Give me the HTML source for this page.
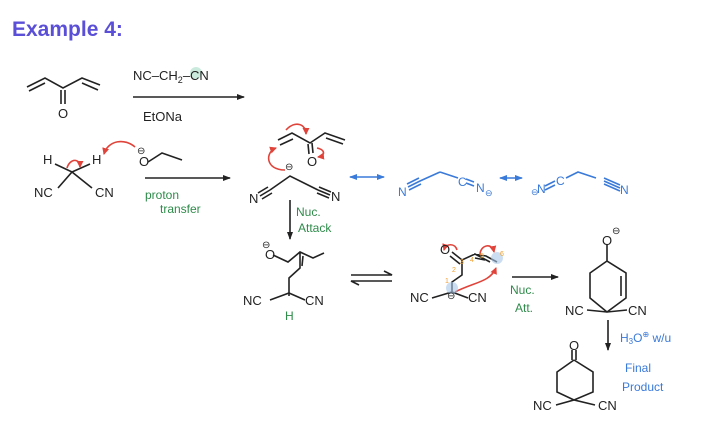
<!DOCTYPE html>
<html><head><meta charset="utf-8"><style>
html,body{margin:0;padding:0;background:#fff;}
svg{display:block;}
text{font-family:"Liberation Sans",sans-serif;}
</style></head><body>
<svg width="720" height="436" viewBox="0 0 720 436" xmlns="http://www.w3.org/2000/svg">
<defs>
<marker id="ak" markerWidth="8" markerHeight="8" refX="7" refY="4" orient="auto" markerUnits="userSpaceOnUse"><path d="M0,1 L8,4 L0,7z" fill="#222"/></marker>
<marker id="ab" markerWidth="8" markerHeight="8" refX="7" refY="4" orient="auto" markerUnits="userSpaceOnUse"><path d="M0,1 L8,4 L0,7z" fill="#3a7ad8"/></marker>
<marker id="abs" markerWidth="8" markerHeight="8" refX="1" refY="4" orient="auto" markerUnits="userSpaceOnUse"><path d="M8,1 L0,4 L8,7z" fill="#3a7ad8"/></marker>
<marker id="ar" markerWidth="7" markerHeight="7" refX="6" refY="3.5" orient="auto" markerUnits="userSpaceOnUse"><path d="M0,0 L7,3.5 L0,7z" fill="#e0433a"/></marker>
</defs>
<text x="12" y="36" font-size="21" fill="#5a4fd6" font-weight="bold">Example 4:</text>

<g stroke="#222" stroke-width="1.6" fill="none">
<path d="M27,87 L45,78 L63,88 L82,78 L100,85"/>
<path d="M29,91 L45,83 M82,83 L98,90"/>
<path d="M61,90 L61,104 M65,90 L65,104"/>
<line x1="133" y1="97" x2="244" y2="97" marker-end="url(#ak)"/>
<path d="M55,164 L72,172 L90,164 M58,188 L72,172 L92,188"/>
<path d="M148,162 L162,153 L182,160"/>
<line x1="145" y1="178" x2="230" y2="178" marker-end="url(#ak)"/>
<path d="M270,190 L290,176 L318,190"/>
<path d="M260,196 L270,190 M258,193 L268,187 M262,199 L272,193"/>
<path d="M318,190 L330,195 M319,187 L331,192 M317,193 L329,198"/>
<path d="M278,140 L292,133 L310,143 L325,133 L345,140 M280,145 L293,139 M326,138 L343,144 M308,144 L309,154 M312,143 L313,153"/>
<line x1="290" y1="200" x2="290" y2="239" marker-end="url(#ak)"/>
<path d="M273,255 L288,262 L300,252 L313,258 L324,253 M300,252 L300,268 L289,278 L289,296 M303,256 L302,266"/>
<path d="M270,300 L289,293 L305,300"/>
<path d="M351,275 L392,275 L384,271 M392,281 L351,281 L359,285"/>
<path d="M452,252 L462,260 L475,254 L490,262 M450,256 L460,264 M474,254 L486,256 L497,262 M475,258 L485,260 M462,260 L462,275 L452,282 L452,292 M432,298 L452,292 L468,298"/>
<line x1="512" y1="277" x2="558" y2="277" marker-end="url(#ak)"/>
<path d="M607,244 L607,261 L626,273 L626,298 L607,312 L590,298 L590,273 L607,261 M621,276 L621,296 M587,310 L607,312 L627,310"/>
<line x1="608" y1="320" x2="608" y2="350" marker-end="url(#ak)"/>
<path d="M572,350 L572,360 M576,350 L576,360 M574,360 L593,372 L593,392 L574,400 L557,392 L557,372 L574,360 M556,405 L574,400 L595,405"/>
</g>

<g stroke="#e0433a" stroke-width="1.6" fill="none">
<path d="M135,147 C125,138 108,140 104,154" marker-end="url(#ar)"/>
<path d="M67,168 C70,158 80,158 80,167" marker-end="url(#ar)"/>
<path d="M285,170 C265,170 265,152 276,148" marker-end="url(#ar)"/>
<path d="M286,130 C295,120 306,124 306,134" marker-end="url(#ar)"/>
<path d="M317,148 C326,150 325,156 318,157" marker-end="url(#ar)"/>
<path d="M457,250 C455,243 446,243 444,250" marker-end="url(#ar)"/>
<path d="M480,255 C480,245 492,242 494,252" marker-end="url(#ar)"/>
<path d="M455,292 C475,282 490,282 496,268" marker-end="url(#ar)"/>
</g>
<circle cx="497" cy="258" r="6" fill="#a8c8e8" opacity="0.6"/>
<circle cx="452" cy="288" r="6" fill="#a8c8e8" opacity="0.6"/>
<circle cx="196" cy="73" r="6" fill="#a8dcc8" opacity="0.6"/>

<g stroke="#3a7ad8" stroke-width="1.6" fill="none">
<line x1="350" y1="177" x2="384" y2="177" marker-start="url(#abs)" marker-end="url(#ab)"/>
<line x1="500" y1="178" x2="522" y2="178" marker-start="url(#abs)" marker-end="url(#ab)"/>
<path d="M408,187 L420,181 M407,184 L419,178 M409,190 L421,184 M420,181 L440,172"/>
<path d="M440,172 L458,178"/>
<path d="M466,179 L474,182 M466,183 L474,186"/>
<path d="M545,186 L555,181 M545,190 L555,185"/>
<path d="M566,178 L578,172 L596,178 M604,181 L620,188 M604,184 L620,191 M604,178 L620,185"/>
</g>

<g fill="#222" font-size="13">
<text x="58" y="118">O</text>
<text x="133" y="80">NC–CH<tspan font-size="9" dy="3">2</tspan><tspan dy="-3">–CN</tspan></text>
<text x="143" y="121">EtONa</text>
<text x="43" y="164">H</text>
<text x="92" y="164">H</text>
<text x="34" y="197">NC</text>
<text x="95" y="197">CN</text>
<text x="139" y="166">O</text>
<text x="137" y="154" font-size="10">⊖</text>
<text x="285" y="170" font-size="10">⊖</text>
<text x="249" y="203">N</text>
<text x="331" y="201">N</text>
<text x="307" y="166">O</text>
<text x="265" y="259">O</text>
<text x="262" y="248" font-size="10">⊖</text>
<text x="243" y="305">NC</text>
<text x="305" y="305">CN</text>
<text x="440" y="254">O</text>
<text x="410" y="302">NC</text>
<text x="447" y="299" font-size="10">⊖</text>
<text x="468" y="302">CN</text>
<text x="602" y="245">O</text>
<text x="612" y="234" font-size="10">⊖</text>
<text x="565" y="315">NC</text>
<text x="628" y="315">CN</text>
<text x="569" y="350">O</text>
<text x="533" y="410">NC</text>
<text x="598" y="410">CN</text>
</g>
<g fill="#3a7ad8" font-size="12">
<text x="398" y="196">N</text>
<text x="458" y="186">C</text>
<text x="476" y="192">N</text><text x="485" y="196" font-size="9">⊖</text>
<text x="531" y="195" font-size="9">⊖</text><text x="537" y="193">N</text>
<text x="556" y="185">C</text>
<text x="620" y="194">N</text>
<text x="620" y="342" font-size="12">H<tspan font-size="8" dy="2">3</tspan><tspan dy="-2">O</tspan><tspan font-size="8" dy="-5">⊕</tspan><tspan dy="5"> w/u</tspan></text>
<text x="625" y="372">Final</text>
<text x="622" y="391">Product</text>
</g>
<g fill="#2e8b4a" font-size="12">
<text x="145" y="199">proton</text>
<text x="160" y="213">transfer</text>
<text x="296" y="216">Nuc.</text>
<text x="298" y="232">Attack</text>
<text x="285" y="320">H</text>
<text x="510" y="294">Nuc.</text>
<text x="515" y="312">Att.</text>
</g>
<g fill="#f0a030" font-size="7">
<text x="445" y="283">1</text><text x="452" y="272">2</text><text x="460" y="264">3</text><text x="470" y="262">4</text><text x="480" y="258">5</text><text x="500" y="256">6</text>
</g>
</svg>
</body></html>
